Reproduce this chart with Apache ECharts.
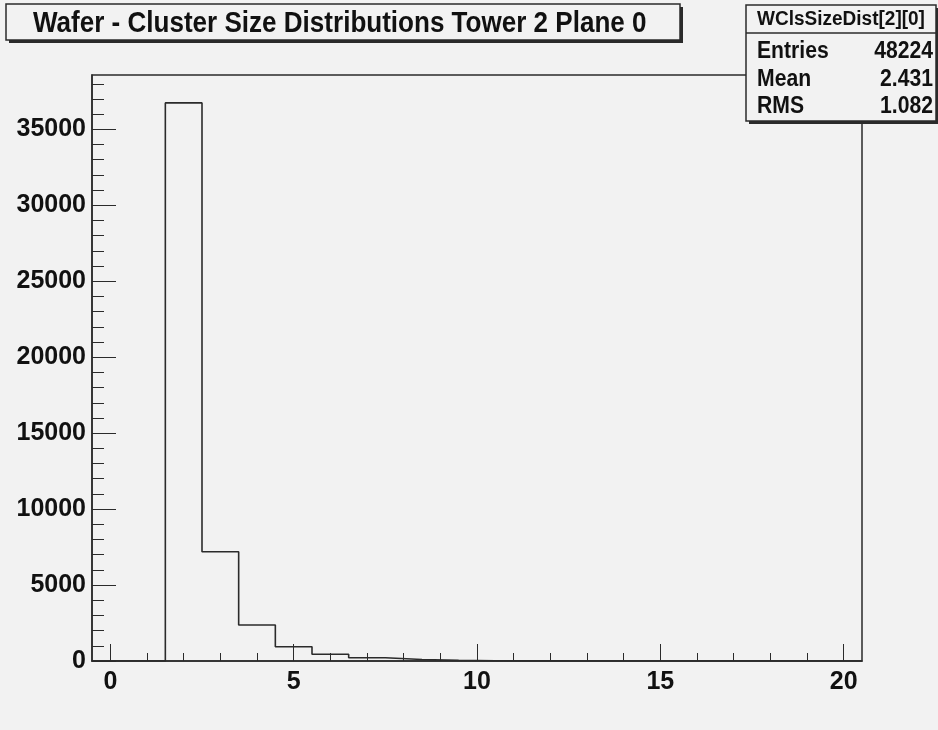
<!DOCTYPE html>
<html>
<head>
<meta charset="utf-8">
<script src="https://cdn.jsdelivr.net/npm/echarts@6/dist/echarts.min.js"></script>
<style>
html,body{margin:0;padding:0;background:#f2f2f2;}
#chart{width:938px;height:730px;}
</style>
</head>
<body>
<div id="chart"></div>
<script>
// ---- data ----
const titleText = 'Wafer - Cluster Size Distributions Tower 2 Plane 0';
const histName = 'WClsSizeDist[2][0]';
const statLabels = ['Entries', 'Mean', 'RMS'];
const statValues = ['48224', '2.431', '1.082'];
const binCenters = [0, 1, 2, 3, 4, 5, 6, 7, 8, 9, 10, 11, 12, 13, 14, 15, 16, 17, 18, 19, 20];
const binCounts  = [0, 0, 36740, 7195, 2370, 940, 440, 217, 100, 40, 20, 10, 6, 4, 2, 1, 1, 0, 0, 0, 0];
const xMajorTicks = [0, 5, 10, 15, 20];
const xMinorTicks = [1, 2, 3, 4, 6, 7, 8, 9, 11, 12, 13, 14, 16, 17, 18, 19];
const yMajorTicks = [0, 5000, 10000, 15000, 20000, 25000, 30000, 35000];
const yMinorTicks = [1000, 2000, 3000, 4000, 6000, 7000, 8000, 9000, 11000, 12000, 13000, 14000,
  16000, 17000, 18000, 19000, 21000, 22000, 23000, 24000, 26000, 27000, 28000, 29000,
  31000, 32000, 33000, 34000, 36000, 37000, 38000];

// ---- build ----
const binWidth = 1;
const xMin = binCenters[0] - binWidth / 2;
const xMax = binCenters[binCenters.length - 1] + binWidth / 2;
const yMax = 1.05 * Math.max.apply(null, binCounts);
const stepData = binCenters.map((c, i) => [c - binWidth / 2, binCounts[i]]);
stepData.push([xMax, binCounts[binCounts.length - 1]]);

const FONT = '"Liberation Sans", Arial, sans-serif';
const INK = '#2b2b2b';
const BG = '#f2f2f2';

const chart = echarts.init(document.getElementById('chart'), null, {renderer: 'canvas'});

const labelStyle = {fontFamily: FONT, fontWeight: 'bold', fontSize: 25, color: '#111',
  formatter: v => String(Math.round(v))};

const option = {
  backgroundColor: BG,
  animation: false,
  grid: {left: 92, right: 76, top: 75, bottom: 69, show: true, borderColor: INK, borderWidth: 1.5,
    backgroundColor: 'transparent', containLabel: false, outerBoundsMode: 'none'},
  xAxis: [
    {type: 'value', min: xMin, max: xMax, position: 'bottom',
      axisLine: {show: true, onZero: false, lineStyle: {color: INK, width: 1.5}},
      axisTick: {show: true, inside: true, length: 17, customValues: xMajorTicks, lineStyle: {color: INK, width: 1}},
      axisLabel: Object.assign({show: true, margin: 9, customValues: xMajorTicks}, labelStyle),
      splitLine: {show: false}},
    {type: 'value', min: xMin, max: xMax, position: 'bottom',
      axisLine: {show: false, onZero: false},
      axisTick: {show: true, inside: true, length: 8, customValues: xMinorTicks, lineStyle: {color: INK, width: 1}},
      axisLabel: {show: false},
      splitLine: {show: false}}
  ],
  yAxis: [
    {type: 'value', min: 0, max: yMax, position: 'left',
      axisLine: {show: true, onZero: false, lineStyle: {color: INK, width: 1.5}},
      axisTick: {show: true, inside: true, length: 24, customValues: yMajorTicks, lineStyle: {color: INK, width: 1}},
      axisLabel: Object.assign({show: true, margin: 6, customValues: yMajorTicks}, labelStyle),
      splitLine: {show: false}},
    {type: 'value', min: 0, max: yMax, position: 'left',
      axisLine: {show: false, onZero: false},
      axisTick: {show: true, inside: true, length: 12, customValues: yMinorTicks, lineStyle: {color: INK, width: 1}},
      axisLabel: {show: false},
      splitLine: {show: false}}
  ],
  series: [{
    type: 'line', xAxisIndex: 0, yAxisIndex: 0, step: 'end',
    data: stepData, showSymbol: false, symbol: 'none',
    lineStyle: {color: INK, width: 1.6}, z: 3
  }],
  graphic: [
    // title box
    {type: 'rect', z: 100, shape: {x: 9, y: 7, width: 674, height: 36}, style: {fill: INK}},
    {type: 'rect', z: 101, shape: {x: 6, y: 4, width: 674, height: 36}, style: {fill: BG, stroke: INK, lineWidth: 1.5}},
    {type: 'text', z: 102, x: 33, y: 24, scaleX: 0.868,
      style: {text: titleText, x: 0, y: 0, fill: '#111', font: 'bold 30px ' + FONT, textAlign: 'left', textVerticalAlign: 'middle'}},
    // stats box
    {type: 'rect', z: 100, shape: {x: 749, y: 8, width: 190, height: 116}, style: {fill: INK}},
    {type: 'rect', z: 101, shape: {x: 746, y: 5, width: 190, height: 116}, style: {fill: BG, stroke: INK, lineWidth: 1.5}},
    {type: 'line', z: 102, shape: {x1: 746, y1: 33, x2: 936, y2: 33}, style: {stroke: INK, lineWidth: 1.5}},
    {type: 'text', z: 102, x: 841, y: 19, scaleX: 0.95,
      style: {text: histName, x: 0, y: 0, fill: '#111', font: 'bold 20px ' + FONT, textAlign: 'center', textVerticalAlign: 'middle'}}
  ]
};

const rowY = [52, 80, 107];
statLabels.forEach((lab, i) => {
  option.graphic.push({type: 'text', z: 102, x: 757, y: rowY[i], scaleX: 0.92,
    style: {text: lab, x: 0, y: 0, fill: '#111', font: 'bold 23px ' + FONT, textAlign: 'left', textVerticalAlign: 'middle'}});
  option.graphic.push({type: 'text', z: 102, x: 933, y: rowY[i], scaleX: 0.92,
    style: {text: statValues[i], x: 0, y: 0, fill: '#111', font: 'bold 23px ' + FONT, textAlign: 'right', textVerticalAlign: 'middle'}});
});

chart.setOption(option);
</script>
</body>
</html>
